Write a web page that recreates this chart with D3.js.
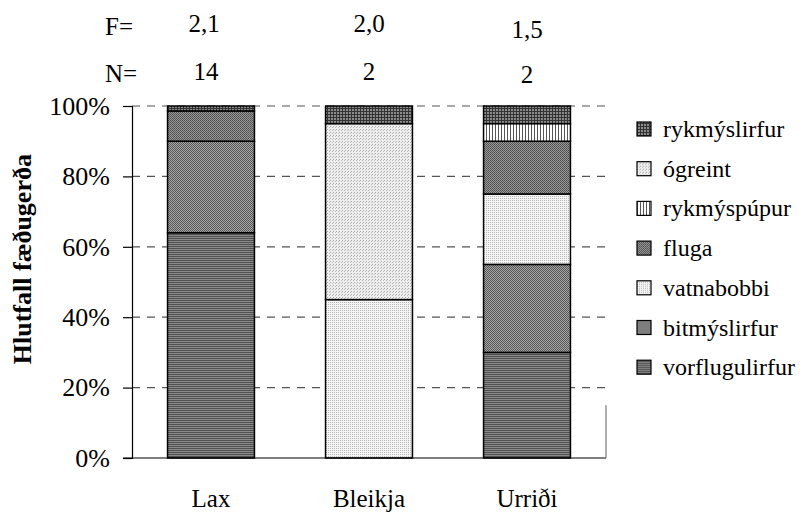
<!DOCTYPE html>
<html>
<head>
<meta charset="utf-8">
<script src="https://cdn.jsdelivr.net/npm/d3@7"></script>
<style>
  body { margin: 0; background: #fff; }
</style>
</head>
<body>
<div id="chart"></div>
<script>
// data
const fish = ["Lax", "Bleikja", "Urriði"];
const fValues = ["2,1", "2,0", "1,5"];
const nValues = ["14", "2", "2"];
const foodTypes = ["vorflugulirfur", "bitmýslirfur", "vatnabobbi", "fluga", "rykmýspúpur", "ógreint", "rykmýslirfur"];
const vorflugulirfur = [64, 0, 30];
const bitmyslirfur  = [26, 0, 25];
const vatnabobbi    = [0, 45, 20];
const fluga         = [8.6, 0, 15];
const rykmyspupur   = [0, 0, 5];
const ogreint       = [0, 50, 0];
const rykmyslirfur  = [1.4, 5, 5];
const yTicks = [0, 0.2, 0.4, 0.6, 0.8, 1];

const seriesValues = [vorflugulirfur, bitmyslirfur, vatnabobbi, fluga, rykmyspupur, ogreint, rykmyslirfur];
const legendOrder = ["rykmýslirfur", "ógreint", "rykmýspúpur", "fluga", "vatnabobbi", "bitmýslirfur", "vorflugulirfur"];

const W = 805, H = 513;
const margin = {top: 106, right: 199, bottom: 55, left: 132};
const FONT = "'Liberation Serif', serif";

const svg = d3.select("#chart").append("svg")
    .attr("width", W).attr("height", H);

// patterns
const defs = svg.append("defs");
function pat(id, size, bg, rects) {
    const p = defs.append("pattern").attr("id", id)
        .attr("patternUnits", "userSpaceOnUse")
        .attr("width", size[0]).attr("height", size[1]);
    p.append("rect").attr("width", size[0]).attr("height", size[1]).attr("fill", bg);
    rects.forEach(r => p.append("rect").attr("x", r[0]).attr("y", r[1])
        .attr("width", r[2]).attr("height", r[3]).attr("fill", r[4]));
}
pat("p-vorfl", [4, 2], "#8a8a8a", [[0, 0, 4, 1, "#505050"]]);
pat("p-bitm", [2, 2], "#a8a8a8", [[0, 0, 1, 1, "#555"], [1, 1, 1, 1, "#555"]]);
pat("p-vatn", [2, 2], "#f4f4f4", [[0, 0, 1, 1, "#b8b8b8"]]);
pat("p-fluga", [2, 2], "#999", [[0, 0, 1, 1, "#4a4a4a"], [1, 1, 1, 1, "#5a5a5a"]]);
pat("p-rykp", [3, 3], "#fff", [[0, 0, 1, 3, "#555"]]);
pat("p-ogr", [3, 3], "#eee", [[0, 0, 1, 1, "#aaa"], [2, 1, 1, 1, "#bbb"]]);
pat("p-ryks", [3, 3], "#8a8a8a", [[0, 0, 3, 1, "#333"], [0, 0, 1, 3, "#333"]]);
const fills = {
    "vorflugulirfur": "url(#p-vorfl)", "bitmýslirfur": "url(#p-bitm)", "vatnabobbi": "url(#p-vatn)",
    "fluga": "url(#p-fluga)", "rykmýspúpur": "url(#p-rykp)", "ógreint": "url(#p-ogr)",
    "rykmýslirfur": "url(#p-ryks)"
};

// scales
const x = d3.scaleBand().domain(fish)
    .range([margin.left, W - margin.right])
    .paddingInner(0.45).paddingOuter(0.225);
const y = d3.scaleLinear().domain([0, 1]).range([H - margin.bottom, margin.top]);
const cx = d => x(d) + x.bandwidth() / 2;

// gridlines
svg.append("g").selectAll("line")
    .data(yTicks.filter(d => d > 0))
    .join("line")
    .attr("x1", margin.left).attr("x2", W - margin.right)
    .attr("y1", d => y(d)).attr("y2", d => y(d))
    .attr("stroke", "#555").attr("stroke-width", 1.2)
    .attr("stroke-dasharray", "8,7");

// stacked data
const table = fish.map((f, i) => {
    const row = {fish: f};
    foodTypes.forEach((t, j) => row[t] = seriesValues[j][i] / 100);
    return row;
});
const stacked = d3.stack().keys(foodTypes)(table);

// bars
const barG = svg.append("g");
stacked.forEach(layer => {
    barG.append("g").selectAll("rect")
        .data(layer.filter(d => d[1] - d[0] > 0))
        .join("rect")
        .attr("x", d => x(d.data.fish))
        .attr("y", d => y(d[1]))
        .attr("width", x.bandwidth())
        .attr("height", d => y(d[0]) - y(d[1]))
        .attr("fill", fills[layer.key])
        .attr("stroke", "#000").attr("stroke-width", 1.5);
});

function txt(sel, size) {
    return sel.attr("font-family", FONT).style("font-family", FONT)
        .attr("font-size", size).style("font-size", size + "px").attr("fill", "#000");
}

// axes
const yAxis = svg.append("g")
    .attr("transform", `translate(${margin.left},0)`)
    .call(d3.axisLeft(y).tickValues(yTicks).tickFormat(d3.format(".0%")).tickSize(9).tickPadding(13));
yAxis.select(".domain").attr("stroke", "#000").attr("stroke-width", 1.2);
yAxis.selectAll(".tick line").attr("stroke", "#000").attr("stroke-width", 1.2);
txt(yAxis.selectAll("text"), 26);

svg.append("line")
    .attr("x1", margin.left - 9).attr("x2", W - margin.right)
    .attr("y1", y(0)).attr("y2", y(0))
    .attr("stroke", "#000").attr("stroke-width", 1.2);
// stray frame piece at the lower right
svg.append("line")
    .attr("x1", W - margin.right).attr("x2", W - margin.right)
    .attr("y1", y(0.15)).attr("y2", y(0))
    .attr("stroke", "#777").attr("stroke-width", 1.2);

// category labels
txt(svg.append("g").selectAll("text")
    .data(fish).join("text")
    .attr("x", d => cx(d))
    .attr("y", 507)
    .attr("text-anchor", "middle")
    .text(d => d), 25);

// F= and N= rows
txt(svg.append("text").attr("x", 105).attr("y", 35).text("F="), 25);
txt(svg.append("text").attr("x", 105).attr("y", 82).text("N="), 25);
txt(svg.append("g").selectAll("text")
    .data(fValues).join("text")
    .attr("x", (d, i) => cx(fish[i]) - (i === 0 ? 7 : 0))
    .attr("y", (d, i) => i === 2 ? 38 : 32)
    .attr("text-anchor", "middle")
    .text(d => d), 25);
txt(svg.append("g").selectAll("text")
    .data(nValues).join("text")
    .attr("x", (d, i) => cx(fish[i]) - (i === 0 ? 5 : 0))
    .attr("y", (d, i) => i === 2 ? 83 : 80)
    .attr("text-anchor", "middle")
    .text(d => d), 25);

// y title
txt(svg.append("text")
    .attr("transform", `translate(31,${y(0.565)}) rotate(-90)`)
    .attr("text-anchor", "middle")
    .attr("font-weight", "bold")
    .text("Hlutfall fæðugerða"), 26);

// legend
const legend = svg.append("g").attr("transform", "translate(637,129)");
const item = legend.selectAll("g").data(legendOrder).join("g")
    .attr("transform", (d, i) => `translate(0,${i * 39.7})`);
item.append("rect")
    .attr("x", 0).attr("y", -7).attr("width", 14).attr("height", 14)
    .attr("fill", d => fills[d]).attr("stroke", "#000").attr("stroke-width", 1.2);
txt(item.append("text")
    .attr("x", 26).attr("y", 8)
    .text(d => d), 24);
</script>
</body>
</html>
